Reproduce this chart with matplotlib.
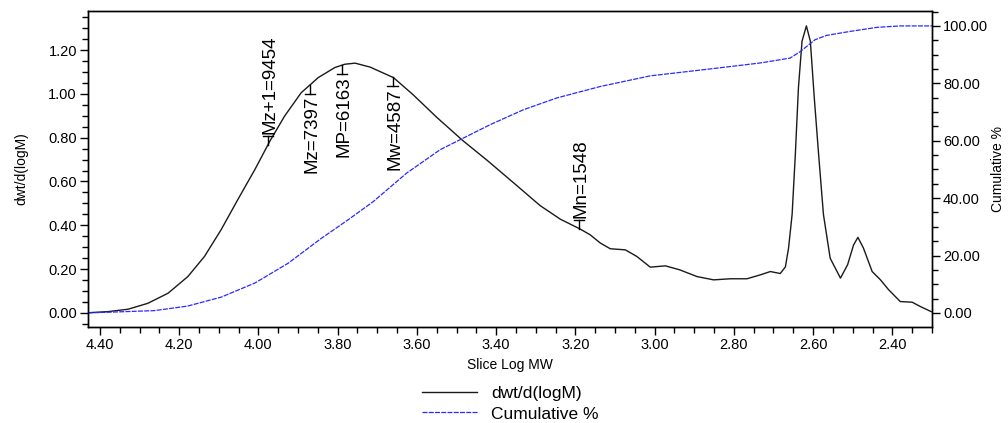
import numpy as np
import matplotlib
matplotlib.use('Agg')
import matplotlib.pyplot as plt
from matplotlib.ticker import MultipleLocator, FormatStrFormatter

plt.rcParams['font.family'] = ['Liberation Sans', 'DejaVu Sans']

# dwt/d(logM) curve
log_mw = [4.430, 4.380, 4.329, 4.279, 4.228, 4.178, 4.136, 4.094, 4.052, 4.009,
          3.971, 3.934, 3.892, 3.849, 3.807, 3.782, 3.756, 3.718, 3.659, 3.609,
          3.550, 3.483, 3.423, 3.356, 3.289, 3.238, 3.188, 3.163, 3.137, 3.112,
          3.074, 3.045, 3.011, 2.973, 2.937, 2.893, 2.851, 2.809, 2.767, 2.733,
          2.708, 2.683, 2.670, 2.662, 2.653, 2.645, 2.637, 2.628, 2.617, 2.607,
          2.597, 2.586, 2.574, 2.557, 2.531, 2.513, 2.498, 2.487, 2.473, 2.451,
          2.430, 2.409, 2.380, 2.350, 2.329, 2.302]
dwt = [0.001, 0.006, 0.017, 0.044, 0.090, 0.166, 0.258, 0.380, 0.517, 0.654,
       0.784, 0.898, 1.005, 1.074, 1.120, 1.135, 1.140, 1.122, 1.074, 0.995,
       0.893, 0.785, 0.697, 0.594, 0.490, 0.428, 0.383, 0.357, 0.319, 0.293,
       0.288, 0.258, 0.209, 0.215, 0.197, 0.166, 0.151, 0.156, 0.156, 0.174,
       0.189, 0.180, 0.210, 0.296, 0.450, 0.720, 1.030, 1.240, 1.310, 1.240,
       0.980, 0.720, 0.450, 0.250, 0.159, 0.220, 0.310, 0.345, 0.296, 0.189,
       0.151, 0.105, 0.052, 0.049, 0.029, 0.006]

# cumulative % curve
cum_x = [4.430, 4.262, 4.178, 4.094, 4.009, 3.925, 3.841, 3.774, 3.710, 3.626,
         3.541, 3.483, 3.415, 3.331, 3.247, 3.137, 3.011, 2.842, 2.733, 2.658,
         2.632, 2.595, 2.566, 2.506, 2.439, 2.380, 2.299]
cum_pct = [0.0, 0.8, 2.4, 5.5, 10.4, 17.3, 26.0, 32.4, 38.8, 48.7,
           56.9, 60.9, 65.6, 70.8, 74.9, 78.9, 82.6, 85.3, 87.1, 88.8,
           91.1, 95.2, 96.7, 98.1, 99.5, 100.0, 100.0]

# molecular weight averages
mark_names = ['Mz+1', 'Mz', 'MP', 'Mw', 'Mn']
mark_vals = [9454, 7397, 6163, 4587, 1548]
mark_up = [True, False, False, False, True]

fig = plt.figure(figsize=(10.08, 4.23), dpi=100)
ax = fig.add_axes([0.0873, 0.227, 0.8373, 0.747])
ax2 = ax.twinx()

l1, = ax.plot(log_mw, dwt, color='#1a1a1a', lw=1.0, label='dwt/d(logM)')
l2, = ax2.plot(cum_x, cum_pct, color='#2a2aff', lw=0.9, ls=(0, (4, 1)),
               label='Cumulative %')

ax.set_xlim(4.43, 2.30)
ax.set_ylim(-0.064, 1.378)
ax2.set_ylim(-4.9, 105.2)

ax.xaxis.set_major_locator(MultipleLocator(0.2))
ax.xaxis.set_minor_locator(MultipleLocator(0.05))
ax.xaxis.set_major_formatter(FormatStrFormatter('%.2f'))
ax.yaxis.set_major_locator(MultipleLocator(0.2))
ax.yaxis.set_minor_locator(MultipleLocator(0.05))
ax.yaxis.set_major_formatter(FormatStrFormatter('%.2f'))
ax2.yaxis.set_major_locator(MultipleLocator(20))
ax2.yaxis.set_minor_locator(MultipleLocator(5))
ax2.yaxis.set_major_formatter(FormatStrFormatter('%.2f'))

for a in (ax, ax2):
    a.tick_params(which='major', length=6, width=1, labelsize=10.5, pad=2)
    a.tick_params(which='minor', length=4, width=1)
    for s in a.spines.values():
        s.set_linewidth(1.0)

ax.set_xlabel('Slice Log MW', fontsize=10)
ax.set_ylabel('dwt/d(logM)', fontsize=10, labelpad=14)
ax2.set_ylabel('Cumulative %', fontsize=10, labelpad=2)

# marker labels on the curve: short leader, small cross tick, rotated text
xs_inc = np.array(log_mw)[::-1]
ys_inc = np.array(dwt)[::-1]
px_y = 1 / 218.5   # one pixel in dwt units
px_x = 1 / 396.0   # one pixel in logM units
lead = 9 * px_y
for name, val, up in zip(mark_names, mark_vals, mark_up):
    x = np.log10(val)
    y0 = np.interp(x, xs_inc, ys_inc)
    d = 1 if up else -1
    y1 = y0 + d * lead
    ax.plot([x, x], [y0, y1], color='k', lw=1.0)
    ax.plot([x + 5 * px_x, x - 5 * px_x], [y1, y1], color='k', lw=1.0)
    ax.text(x - 2 * px_x, y1 + d * 2 * px_y, '%s=%d' % (name, val), rotation=90,
            ha='center', va='bottom' if up else 'top', fontsize=13.5)

fig.legend(handles=[l1, l2], loc='upper center', bbox_to_anchor=(0.506, 0.108),
           frameon=False, fontsize=12.5, handlelength=3.2, handletextpad=0.8,
           labelspacing=0.3, borderpad=0)

fig.savefig('out.png', dpi=100)
